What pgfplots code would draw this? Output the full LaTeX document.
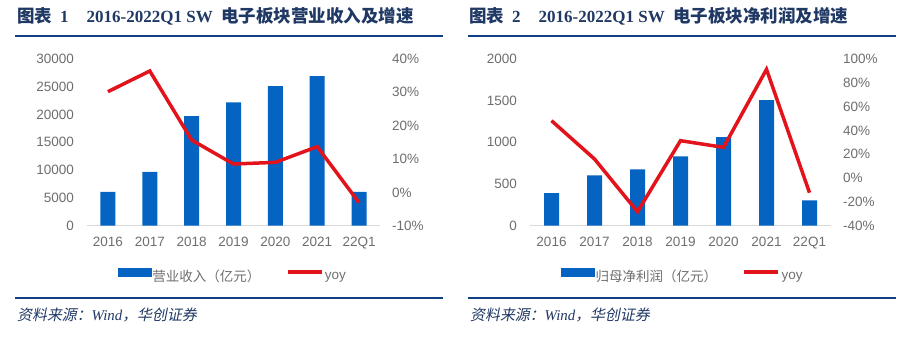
\documentclass[border=0pt]{standalone}
\usepackage{pgfplots}
\pgfplotsset{compat=1.18}
\usepackage{fontspec}
\setmainfont{Liberation Sans}
\newfontfamily\cjk{Noto Sans CJK SC}
\newfontfamily\cjksl[FakeSlant=0.2]{Noto Sans CJK SC}
\newfontfamily\tnr{Liberation Serif}
\definecolor{barblue}{HTML}{0563C1}
\definecolor{linered}{HTML}{E3131B}
\definecolor{navy}{HTML}{1F3864}
\definecolor{rulec}{HTML}{103F82}
\definecolor{tickgrey}{HTML}{6E6E6E}
\definecolor{axgrey}{HTML}{D9D9D9}

\pgfplotsset{
 base/.style={scale only axis, height=166.7pt, xmin=-0.5, xmax=6.5,
   major tick length=0pt, tick style={draw=none}, scaled y ticks=false,
   /pgf/number format/1000 sep={}, /pgf/number format/assume math mode=true,
   tick label style={font=\fontsize{13.5}{15}\selectfont, text=tickgrey, inner sep=0pt}},
 leftax/.style={base, axis x line*=bottom, axis y line*=left,
   y axis line style={draw=none}, x axis line style={draw=axgrey, line width=1pt, -},
   xtick={0,...,6}, xticklabels={2016,2017,2018,2019,2020,2021,22Q1},
   xticklabel style={anchor=north, yshift=-11pt},
   yticklabel style={anchor=east, xshift=-13pt},
   ybar, bar width=15pt},
 rightax/.style={base, hide x axis, axis y line*=right, y axis line style={draw=none},
   yticklabel style={anchor=west, xshift=12pt},
   legend style={draw=none, fill=none, inner sep=0pt, legend columns=2,
     font=\fontsize{13.5}{15}\selectfont, text=tickgrey, nodes={inner sep=1.5pt},
     /tikz/every even column/.append style={column sep=24pt}, anchor=center}},
 barimg/.style={legend image code/.code={\fill[barblue] (0pt,0.5pt) rectangle (33pt,8.5pt);}},
 lineimg/.style={legend image code/.code={\draw[linered, line width=3.5pt] (0pt,4.5pt) -- (34pt,4.5pt);}},
}

\begin{document}
\begin{tikzpicture}
\path[use as bounding box] (0pt,0pt) rectangle (910pt,345pt);

% ---------- titles and rules ----------
\begin{scope}[every node/.style={anchor=base west, inner sep=0pt, text=navy}]
\node at (17pt,322pt) {\fontsize{17.5}{19}\selectfont\cjk\bfseries 图表};
\node at (60pt,322pt) {\fontsize{17}{19}\selectfont\tnr\bfseries 1};
\node at (86.5pt,322pt) {\fontsize{17}{19}\selectfont\tnr\bfseries 2016-2022Q1 SW};
\node at (221pt,322pt) {\fontsize{17.5}{19}\selectfont\cjk\bfseries 电子板块营业收入及增速};
\node at (469pt,322pt) {\fontsize{17.5}{19}\selectfont\cjk\bfseries 图表};
\node at (512pt,322pt) {\fontsize{17}{19}\selectfont\tnr\bfseries 2};
\node at (538.5pt,322pt) {\fontsize{17}{19}\selectfont\tnr\bfseries 2016-2022Q1 SW};
\node at (673pt,322pt) {\fontsize{17.5}{19}\selectfont\cjk\bfseries 电子板块净利润及增速};
\end{scope}
\draw[rulec, line width=2pt] (15pt,309pt) -- (443pt,309pt);
\draw[rulec, line width=2pt] (468pt,309pt) -- (896pt,309pt);
\draw[rulec, line width=2pt] (15pt,47pt) -- (443pt,47pt);
\draw[rulec, line width=2pt] (468pt,47pt) -- (896pt,47pt);
\node[anchor=west, inner sep=0pt, text=navy] at (17pt,30pt)
  {\fontsize{14.9}{16}\selectfont\cjksl 资料来源：{\tnr\itshape Wind}，华创证券};
\node[anchor=west, inner sep=0pt, text=navy] at (470pt,30pt)
  {\fontsize{14.9}{16}\selectfont\cjksl 资料来源：{\tnr\itshape Wind}，华创证券};

% ---------- chart 1 ----------
\begin{axis}[leftax, width=293pt, at={(87pt,119.3pt)}, anchor=south west,
  ymin=0, ymax=30000, ytick={0,5000,...,30000}]
\addplot[fill=barblue, draw=none] coordinates {(0,6100) (1,9700) (2,19700) (3,22200) (4,25100) (5,26900) (6,6100)};
\end{axis}
\begin{axis}[rightax, width=293pt, at={(87pt,119.3pt)}, anchor=south west,
  ymin=-10, ymax=40, ytick={-10,0,10,20,30,40},
  yticklabels={-10\%,0\%,10\%,20\%,30\%,40\%},
  legend style={at={(0.4966,-0.3017)}}]
\addlegendimage{barimg}
\addlegendentry{\cjk 营业收入（亿元）}
\addplot[linered, line width=3.5pt, lineimg] coordinates {(0,30.2) (1,36.4) (2,15.7) (3,8.5) (4,9.0) (5,13.7) (6,-3.1)};
\addlegendentry{yoy}
\end{axis}

% ---------- chart 2 ----------
\begin{axis}[leftax, width=301pt, at={(530pt,119.3pt)}, anchor=south west,
  ymin=0, ymax=2000, ytick={0,500,...,2000}]
\addplot[fill=barblue, draw=none] coordinates {(0,392) (1,604) (2,676) (3,832) (4,1064) (5,1508) (6,304)};
\end{axis}
\begin{axis}[rightax, width=301pt, at={(530pt,119.3pt)}, anchor=south west,
  ymin=-40, ymax=100, ytick={-40,-20,0,20,40,60,80,100},
  yticklabels={-40\%,-20\%,0\%,20\%,40\%,60\%,80\%,100\%},
  legend style={at={(0.5066,-0.3017)}}]
\addlegendimage{barimg}
\addlegendentry{\cjk 归母净利润（亿元）}
\addplot[linered, line width=3.5pt, lineimg] coordinates {(0,48.2) (1,16.0) (2,-28.3) (3,31.4) (4,25.8) (5,91.3) (6,-12.3)};
\addlegendentry{yoy}
\end{axis}
\end{tikzpicture}
\end{document}
